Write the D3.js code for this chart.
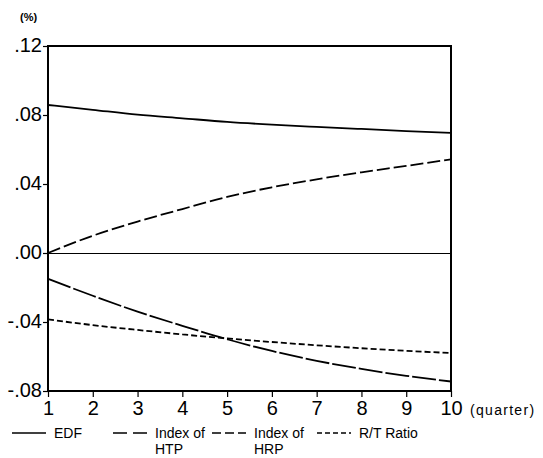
<!DOCTYPE html>
<html>
<head>
<meta charset="utf-8">
<script src="https://cdn.jsdelivr.net/npm/d3@7"></script>
<style>
    body { margin: 0; background: #fff; }
    svg { display: block; font-family: "Liberation Sans", Arial, sans-serif; }
</style>
</head>
<body>
<script>
const quarters = [1, 2, 3, 4, 5, 6, 7, 8, 9, 10];
const edf = [0.0858, 0.0830, 0.0802, 0.0781, 0.0760, 0.0744, 0.0731, 0.0719, 0.0707, 0.0696];
const htp = [0.0000, 0.0100, 0.0182, 0.0255, 0.0325, 0.0381, 0.0427, 0.0468, 0.0505, 0.0543];
const hrp = [-0.0150, -0.0248, -0.0340, -0.0422, -0.0500, -0.0568, -0.0625, -0.0672, -0.0712, -0.0745];
const rtRatio = [-0.0385, -0.0418, -0.0446, -0.0472, -0.0495, -0.0516, -0.0535, -0.0552, -0.0567, -0.0580];
const yTicks = [0.12, 0.08, 0.04, 0.00, -0.04, -0.08];
const yTickLabels = [".12", ".08", ".04", ".00", "-.04", "-.08"];
const seriesNames = ["EDF", "Index of|HTP", "Index of|HRP", "R/T Ratio"];

const width = 543, height = 458;
const margin = { left: 48, right: 92, top: 46, bottom: 67 };

const svg = d3.select("body").append("svg")
    .attr("width", width)
    .attr("height", height);

const x = d3.scaleLinear()
    .domain([1, 10])
    .range([margin.left, width - margin.right]);
const y = d3.scaleLinear()
    .domain([-0.08, 0.12])
    .range([height - margin.bottom, margin.top]);

// axes
const xAxis = d3.axisBottom(x).tickValues(quarters).tickSize(6).tickPadding(4).tickFormat(d3.format("d"));
const yAxis = d3.axisLeft(y).tickValues(yTicks).tickSize(5).tickPadding(1)
    .tickFormat((d, i) => yTickLabels[i]);

const gx = svg.append("g")
    .attr("transform", "translate(0," + y.range()[0] + ")")
    .call(xAxis);
const gy = svg.append("g")
    .attr("transform", "translate(" + x.range()[0] + ",0)")
    .call(yAxis);

[gx, gy].forEach(g => {
    g.select(".domain").remove();
    g.selectAll("line").attr("stroke", "#000").attr("stroke-width", 1.2);
    g.selectAll("text").attr("fill", "#000").style("font-size", "20px");
});
gy.selectAll("text").attr("dy", "0.25em");

// frame
svg.append("rect")
    .attr("x", x.range()[0])
    .attr("y", y.range()[1])
    .attr("width", x.range()[1] - x.range()[0])
    .attr("height", y.range()[0] - y.range()[1])
    .attr("fill", "none")
    .attr("stroke", "#000")
    .attr("stroke-width", 2);

// zero line
svg.append("line")
    .attr("x1", x.range()[0]).attr("x2", x.range()[1])
    .attr("y1", y(0) + 0.5).attr("y2", y(0) + 0.5)
    .attr("stroke", "#000").attr("stroke-width", 1);

const line = d3.line()
    .x((d, i) => x(quarters[i]))
    .y(d => y(d))
    .curve(d3.curveMonotoneX);

const series = [
    { values: edf, dash: null, legendDash: null },
    { values: htp, dash: "13,4", legendDash: "14,6" },
    { values: hrp, dash: "24,3", legendDash: "9,4" },
    { values: rtRatio, dash: "6,3", legendDash: "5,3" }
];

series.forEach(s => {
    svg.append("path")
        .datum(s.values)
        .attr("d", line)
        .attr("fill", "none")
        .attr("stroke", "#000")
        .attr("stroke-width", 1.8)
        .attr("stroke-dasharray", s.dash);
});

// axis captions
svg.append("text")
    .attr("x", 20).attr("y", 21)
    .style("font-size", "11px").style("font-weight", "bold")
    .text("(%)");
svg.append("text")
    .attr("x", 470).attr("y", 415)
    .style("font-size", "14px")
    .style("letter-spacing", "1.3px")
    .text("(quarter)");

// legend
const legendX = [12, 113, 212, 317];
const legendY = 433;
series.forEach((s, i) => {
    const g = svg.append("g").attr("transform", "translate(" + legendX[i] + "," + legendY + ")");
    g.append("line")
        .attr("x1", 0).attr("x2", 34)
        .attr("stroke", "#000").attr("stroke-width", 1.3)
        .attr("stroke-dasharray", s.legendDash);
    const parts = seriesNames[i].split("|");
    parts.forEach((p, j) => {
        g.append("text")
            .attr("x", 42).attr("y", 5 + j * 16)
            .style("font-size", "14px")
            .text(p);
    });
});
</script>
</body>
</html>
